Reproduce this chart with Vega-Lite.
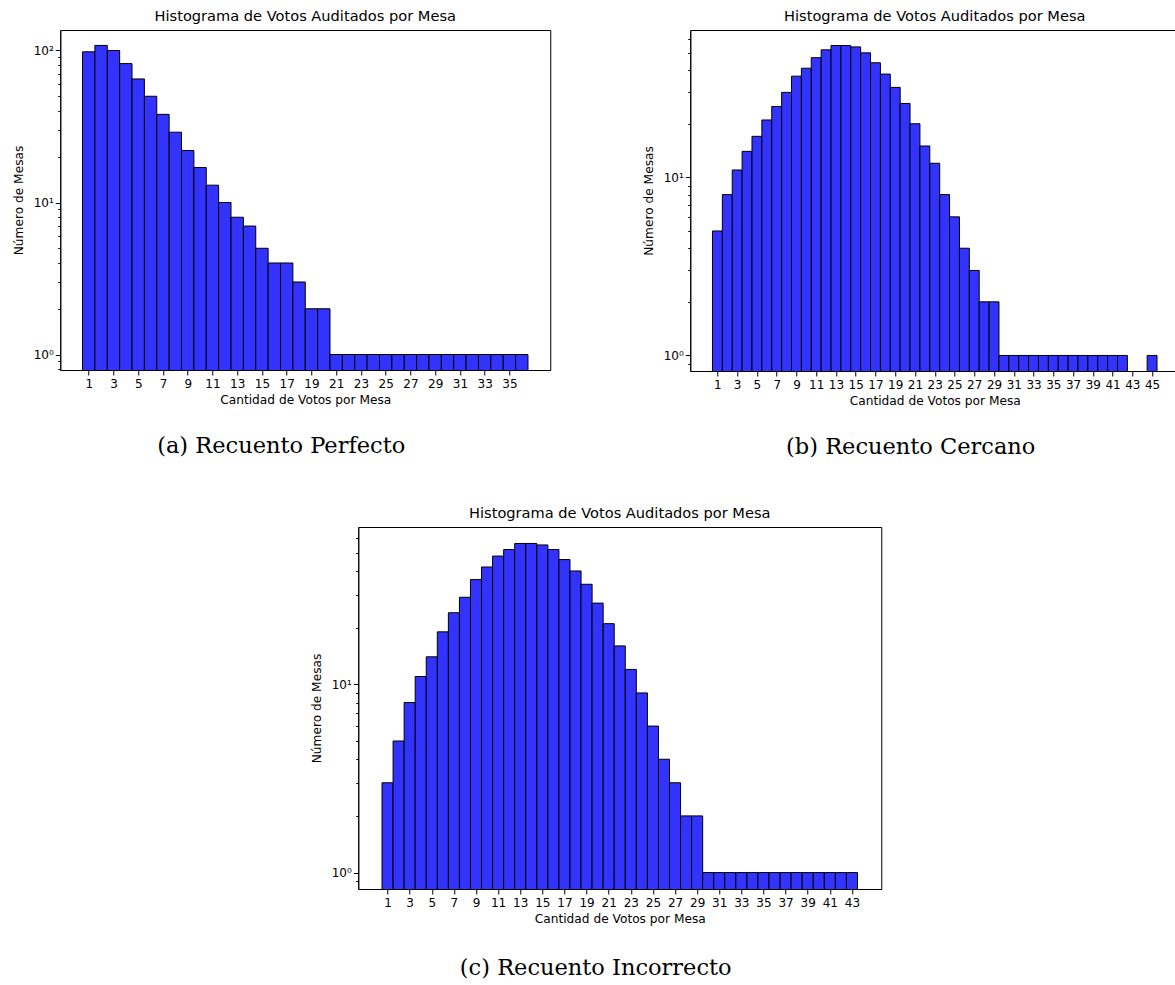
{
  "$schema": "https://vega.github.io/schema/vega-lite/v6.json",
  "background": "white",
  "padding": {"left": 11, "top": 8, "right": 0, "bottom": 5},
  "config": {
    "font": "DejaVu Sans",
    "view": {"stroke": "black", "strokeWidth": 1},
    "axis": {"labelFont": "DejaVu Sans", "titleFont": "DejaVu Sans", "labelFontSize": 12, "titleFontSize": 12.2, "titleFontWeight": "normal", "labelColor": "black", "titleColor": "black", "tickColor": "black", "domainColor": "black", "grid": false, "labelFlush": false, "labelPadding": 2},
    "axisX": {"labelPadding": 3, "titlePadding": 4},
    "title": {"font": "DejaVu Sans", "fontSize": 14.6, "fontWeight": "normal", "color": "black", "offset": 6}
  },
  "datasets": {
    "perfecto": [
      {"desde": 0.5, "hasta": 1.5, "mesas": 98}, {"desde": 1.5, "hasta": 2.5, "mesas": 108}, {"desde": 2.5, "hasta": 3.5, "mesas": 100},
      {"desde": 3.5, "hasta": 4.5, "mesas": 82}, {"desde": 4.5, "hasta": 5.5, "mesas": 65}, {"desde": 5.5, "hasta": 6.5, "mesas": 50},
      {"desde": 6.5, "hasta": 7.5, "mesas": 38}, {"desde": 7.5, "hasta": 8.5, "mesas": 29}, {"desde": 8.5, "hasta": 9.5, "mesas": 22},
      {"desde": 9.5, "hasta": 10.5, "mesas": 17}, {"desde": 10.5, "hasta": 11.5, "mesas": 13}, {"desde": 11.5, "hasta": 12.5, "mesas": 10},
      {"desde": 12.5, "hasta": 13.5, "mesas": 8}, {"desde": 13.5, "hasta": 14.5, "mesas": 7}, {"desde": 14.5, "hasta": 15.5, "mesas": 5},
      {"desde": 15.5, "hasta": 16.5, "mesas": 4}, {"desde": 16.5, "hasta": 17.5, "mesas": 4}, {"desde": 17.5, "hasta": 18.5, "mesas": 3},
      {"desde": 18.5, "hasta": 19.5, "mesas": 2}, {"desde": 19.5, "hasta": 20.5, "mesas": 2}, {"desde": 20.5, "hasta": 21.5, "mesas": 1},
      {"desde": 21.5, "hasta": 22.5, "mesas": 1}, {"desde": 22.5, "hasta": 23.5, "mesas": 1}, {"desde": 23.5, "hasta": 24.5, "mesas": 1},
      {"desde": 24.5, "hasta": 25.5, "mesas": 1}, {"desde": 25.5, "hasta": 26.5, "mesas": 1}, {"desde": 26.5, "hasta": 27.5, "mesas": 1},
      {"desde": 27.5, "hasta": 28.5, "mesas": 1}, {"desde": 28.5, "hasta": 29.5, "mesas": 1}, {"desde": 29.5, "hasta": 30.5, "mesas": 1},
      {"desde": 30.5, "hasta": 31.5, "mesas": 1}, {"desde": 31.5, "hasta": 32.5, "mesas": 1}, {"desde": 32.5, "hasta": 33.5, "mesas": 1},
      {"desde": 33.5, "hasta": 34.5, "mesas": 1}, {"desde": 34.5, "hasta": 35.5, "mesas": 1}, {"desde": 35.5, "hasta": 36.5, "mesas": 1}
    ],
    "cercano": [
      {"desde": 0.5, "hasta": 1.5, "mesas": 5}, {"desde": 1.5, "hasta": 2.5, "mesas": 8}, {"desde": 2.5, "hasta": 3.5, "mesas": 11},
      {"desde": 3.5, "hasta": 4.5, "mesas": 14}, {"desde": 4.5, "hasta": 5.5, "mesas": 17}, {"desde": 5.5, "hasta": 6.5, "mesas": 21},
      {"desde": 6.5, "hasta": 7.5, "mesas": 25}, {"desde": 7.5, "hasta": 8.5, "mesas": 30}, {"desde": 8.5, "hasta": 9.5, "mesas": 37},
      {"desde": 9.5, "hasta": 10.5, "mesas": 41}, {"desde": 10.5, "hasta": 11.5, "mesas": 47}, {"desde": 11.5, "hasta": 12.5, "mesas": 52},
      {"desde": 12.5, "hasta": 13.5, "mesas": 55}, {"desde": 13.5, "hasta": 14.5, "mesas": 55}, {"desde": 14.5, "hasta": 15.5, "mesas": 54},
      {"desde": 15.5, "hasta": 16.5, "mesas": 50}, {"desde": 16.5, "hasta": 17.5, "mesas": 44}, {"desde": 17.5, "hasta": 18.5, "mesas": 38},
      {"desde": 18.5, "hasta": 19.5, "mesas": 32}, {"desde": 19.5, "hasta": 20.5, "mesas": 26}, {"desde": 20.5, "hasta": 21.5, "mesas": 20},
      {"desde": 21.5, "hasta": 22.5, "mesas": 15}, {"desde": 22.5, "hasta": 23.5, "mesas": 12}, {"desde": 23.5, "hasta": 24.5, "mesas": 8},
      {"desde": 24.5, "hasta": 25.5, "mesas": 6}, {"desde": 25.5, "hasta": 26.5, "mesas": 4}, {"desde": 26.5, "hasta": 27.5, "mesas": 3},
      {"desde": 27.5, "hasta": 28.5, "mesas": 2}, {"desde": 28.5, "hasta": 29.5, "mesas": 2}, {"desde": 29.5, "hasta": 30.5, "mesas": 1},
      {"desde": 30.5, "hasta": 31.5, "mesas": 1}, {"desde": 31.5, "hasta": 32.5, "mesas": 1}, {"desde": 32.5, "hasta": 33.5, "mesas": 1},
      {"desde": 33.5, "hasta": 34.5, "mesas": 1}, {"desde": 34.5, "hasta": 35.5, "mesas": 1}, {"desde": 35.5, "hasta": 36.5, "mesas": 1},
      {"desde": 36.5, "hasta": 37.5, "mesas": 1}, {"desde": 37.5, "hasta": 38.5, "mesas": 1}, {"desde": 38.5, "hasta": 39.5, "mesas": 1},
      {"desde": 39.5, "hasta": 40.5, "mesas": 1}, {"desde": 40.5, "hasta": 41.5, "mesas": 1}, {"desde": 41.5, "hasta": 42.5, "mesas": 1},
      {"desde": 44.5, "hasta": 45.5, "mesas": 1}
    ],
    "incorrecto": [
      {"desde": 0.5, "hasta": 1.5, "mesas": 3}, {"desde": 1.5, "hasta": 2.5, "mesas": 5}, {"desde": 2.5, "hasta": 3.5, "mesas": 8},
      {"desde": 3.5, "hasta": 4.5, "mesas": 11}, {"desde": 4.5, "hasta": 5.5, "mesas": 14}, {"desde": 5.5, "hasta": 6.5, "mesas": 19},
      {"desde": 6.5, "hasta": 7.5, "mesas": 24}, {"desde": 7.5, "hasta": 8.5, "mesas": 29}, {"desde": 8.5, "hasta": 9.5, "mesas": 36},
      {"desde": 9.5, "hasta": 10.5, "mesas": 42}, {"desde": 10.5, "hasta": 11.5, "mesas": 48}, {"desde": 11.5, "hasta": 12.5, "mesas": 52},
      {"desde": 12.5, "hasta": 13.5, "mesas": 56}, {"desde": 13.5, "hasta": 14.5, "mesas": 56}, {"desde": 14.5, "hasta": 15.5, "mesas": 55},
      {"desde": 15.5, "hasta": 16.5, "mesas": 52}, {"desde": 16.5, "hasta": 17.5, "mesas": 46}, {"desde": 17.5, "hasta": 18.5, "mesas": 40},
      {"desde": 18.5, "hasta": 19.5, "mesas": 34}, {"desde": 19.5, "hasta": 20.5, "mesas": 27}, {"desde": 20.5, "hasta": 21.5, "mesas": 21},
      {"desde": 21.5, "hasta": 22.5, "mesas": 16}, {"desde": 22.5, "hasta": 23.5, "mesas": 12}, {"desde": 23.5, "hasta": 24.5, "mesas": 9},
      {"desde": 24.5, "hasta": 25.5, "mesas": 6}, {"desde": 25.5, "hasta": 26.5, "mesas": 4}, {"desde": 26.5, "hasta": 27.5, "mesas": 3},
      {"desde": 27.5, "hasta": 28.5, "mesas": 2}, {"desde": 28.5, "hasta": 29.5, "mesas": 2}, {"desde": 29.5, "hasta": 30.5, "mesas": 1},
      {"desde": 30.5, "hasta": 31.5, "mesas": 1}, {"desde": 31.5, "hasta": 32.5, "mesas": 1}, {"desde": 32.5, "hasta": 33.5, "mesas": 1},
      {"desde": 33.5, "hasta": 34.5, "mesas": 1}, {"desde": 34.5, "hasta": 35.5, "mesas": 1}, {"desde": 35.5, "hasta": 36.5, "mesas": 1},
      {"desde": 36.5, "hasta": 37.5, "mesas": 1}, {"desde": 37.5, "hasta": 38.5, "mesas": 1}, {"desde": 38.5, "hasta": 39.5, "mesas": 1},
      {"desde": 39.5, "hasta": 40.5, "mesas": 1}, {"desde": 40.5, "hasta": 41.5, "mesas": 1}, {"desde": 41.5, "hasta": 42.5, "mesas": 1},
      {"desde": 42.5, "hasta": 43.5, "mesas": 1}
    ]
  },
  "vconcat": [
    {
      "hconcat": [
        {
          "title": {"text": "(a) Recuento Perfecto", "orient": "bottom", "anchor": "middle", "font": "DejaVu Serif", "fontSize": 22.5, "offset": 29},
          "vconcat": [
            {
              "width": 490, "height": 340,
              "title": "Histograma de Votos Auditados por Mesa",
              "data": {"name": "perfecto"},
              "mark": {"type": "bar", "fill": "#3333ff", "stroke": "black", "strokeWidth": 1, "clip": true},
              "encoding": {
                "x": {"field": "desde", "type": "quantitative", "scale": {"domain": [-1.3, 38.3], "nice": false, "zero": false},
                  "axis": {"values": [1,3,5,7,9,11,13,15,17,19,21,23,25,27,29,31,33,35], "title": "Cantidad de Votos por Mesa", "tickSize": 5}},
                "x2": {"field": "hasta"},
                "y": {"field": "mesas", "type": "quantitative", "scale": {"type": "log", "domain": [0.791, 136.4], "nice": false},
                  "axis": {"values": [0.8,0.9,1,2,3,4,5,6,7,8,9,10,20,30,40,50,60,70,80,90,100], "title": "Número de Mesas", "titlePadding": 8,
                    "labelExpr": "datum.value == 1 ? '10⁰' : datum.value == 10 ? '10¹' : datum.value == 100 ? '10²' : ''",
                    "tickSize": {"condition": {"test": "datum.value == 1 || datum.value == 10 || datum.value == 100", "value": 5}, "value": 2.5}}},
                "y2": {"datum": 0.5}
              }
            }
          ]
        },
        {
          "title": {"text": "(b) Recuento Cercano", "orient": "bottom", "anchor": "middle", "font": "DejaVu Serif", "fontSize": 22.5, "offset": 29},
          "vconcat": [
            {
              "width": 489, "height": 341,
              "title": "Histograma de Votos Auditados por Mesa",
              "data": {"name": "cercano"},
              "mark": {"type": "bar", "fill": "#3333ff", "stroke": "black", "strokeWidth": 1, "clip": true},
              "encoding": {
                "x": {"field": "desde", "type": "quantitative", "scale": {"domain": [-1.75, 47.75], "nice": false, "zero": false},
                  "axis": {"values": [1,3,5,7,9,11,13,15,17,19,21,23,25,27,29,31,33,35,37,39,41,43,45], "title": "Cantidad de Votos por Mesa", "tickSize": 5}},
                "x2": {"field": "hasta"},
                "y": {"field": "mesas", "type": "quantitative", "scale": {"type": "log", "domain": [0.818, 67.2], "nice": false},
                  "axis": {"values": [0.9,1,2,3,4,5,6,7,8,9,10,20,30,40,50,60], "title": "Número de Mesas", "titlePadding": 8,
                    "labelExpr": "datum.value == 1 ? '10⁰' : datum.value == 10 ? '10¹' : datum.value == 100 ? '10²' : ''",
                    "tickSize": {"condition": {"test": "datum.value == 1 || datum.value == 10 || datum.value == 100", "value": 5}, "value": 2.5}}},
                "y2": {"datum": 0.5}
              }
            }
          ]
        }
      ],
      "spacing": 90
    },
    {
      "title": {"text": "(c) Recuento Incorrecto", "orient": "bottom", "anchor": "middle", "font": "DejaVu Serif", "fontSize": 22.5, "offset": 32},
      "vconcat": [
        {
          "width": 523, "height": 362,
          "title": "Histograma de Votos Auditados por Mesa",
          "data": {"name": "incorrecto"},
          "mark": {"type": "bar", "fill": "#3333ff", "stroke": "black", "strokeWidth": 1, "clip": true},
          "encoding": {
            "x": {"field": "desde", "type": "quantitative", "scale": {"domain": [-1.65, 45.65], "nice": false, "zero": false},
              "axis": {"values": [1,3,5,7,9,11,13,15,17,19,21,23,25,27,29,31,33,35,37,39,41,43], "title": "Cantidad de Votos por Mesa", "tickSize": 5}},
            "x2": {"field": "hasta"},
            "y": {"field": "mesas", "type": "quantitative", "scale": {"type": "log", "domain": [0.818, 68.5], "nice": false},
              "axis": {"values": [0.9,1,2,3,4,5,6,7,8,9,10,20,30,40,50,60], "title": "Número de Mesas", "titlePadding": 8,
                "labelExpr": "datum.value == 1 ? '10⁰' : datum.value == 10 ? '10¹' : datum.value == 100 ? '10²' : ''",
                "tickSize": {"condition": {"test": "datum.value == 1 || datum.value == 10 || datum.value == 100", "value": 5}, "value": 2.5}}},
            "y2": {"datum": 0.5}
          }
        }
      ]
    }
  ],
  "center": true,
  "spacing": 46
}
